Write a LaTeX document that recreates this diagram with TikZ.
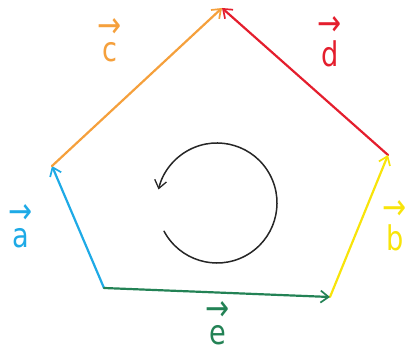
\documentclass[tikz,border=0pt]{standalone}
\usepackage{fontspec}
\setmainfont{DejaVu Sans}
\usetikzlibrary{arrows.meta}
\definecolor{cblue}{RGB}{30,170,230}
\definecolor{corange}{RGB}{245,160,60}
\definecolor{cred}{RGB}{228,30,45}
\definecolor{cyellow}{RGB}{248,228,10}
\definecolor{cgreen}{RGB}{35,130,85}
\newcommand{\hvec}[1]{\shortstack{{\fontsize{36}{20}\selectfont →}\\[2pt]#1}}
\begin{document}
\begin{tikzpicture}[x=1pt,y=1pt,
  vec/.style={line width=2.2pt,line cap=round,-{Straight Barb[length=8pt,width=12pt,line width=1.7pt]}},
  lbl/.style={font=\fontsize{34}{34}\selectfont\addfontfeatures{FakeStretch=0.8},inner sep=0pt}]
\useasboundingbox (0,0) rectangle (408,358);
\coordinate (T) at (222,350);
\coordinate (L) at (52,192);
\coordinate (R) at (388,203);
\coordinate (BR) at (330,61);
\coordinate (BL) at (104,70);
\draw[vec,cblue] (BL) -- (L);
\draw[vec,corange] (L) -- (T);
\draw[vec,cred] (R) -- (T);
\draw[vec,cyellow] (BR) -- (R);
\draw[vec,cgreen] (BL) -- (BR);
\node[lbl,text=cblue] (la) at (21,132) {\hvec{a}};
\node[lbl,text=corange] (lc) at (110,318) {\hvec{c}};
\node[lbl,text=cred] (ld) at (330,316) {\hvec{d}};
\node[lbl,text=cyellow] (lb) at (395,132) {\hvec{b}};
\node[lbl,text=cgreen] (le) at (218,35) {\hvec{e}};
\coordinate (C) at (217,155);
\draw[line width=1.5pt,black!85,line cap=round,-{Straight Barb[length=8pt,width=12pt,line width=1.3pt]}]
  ([shift={(208:60)}]C) arc[start angle=208,end angle=527,radius=60];
\end{tikzpicture}
\end{document}
